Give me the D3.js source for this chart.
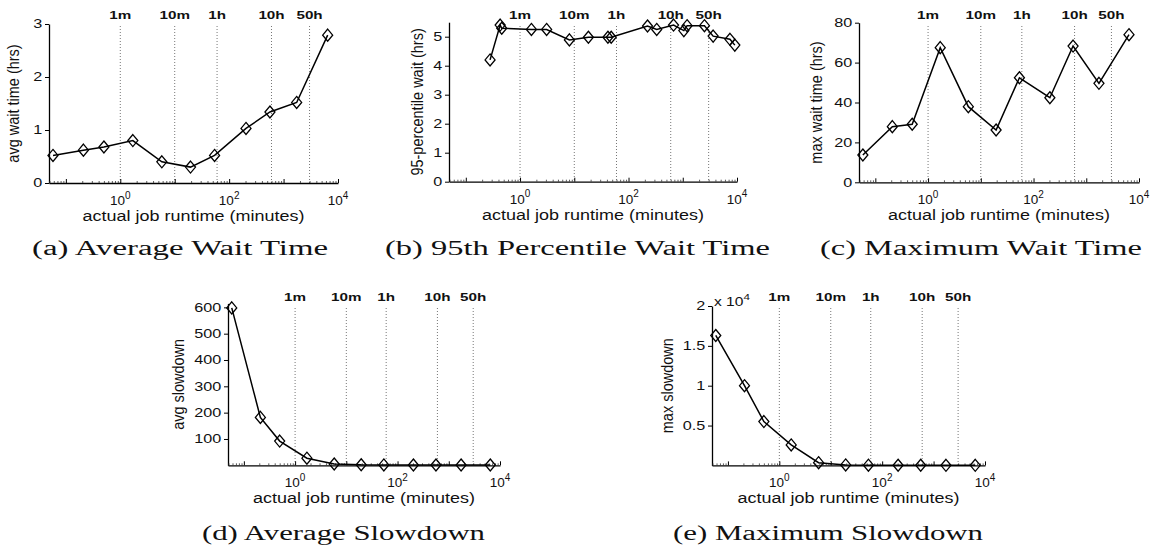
<!DOCTYPE html>
<html lang="en">
<head>
<meta charset="UTF-8">
<title>wait time and slowdown vs job runtime</title>
<style>
  body { margin: 0; background: #fff; }
  svg text { fill: #111; }
</style>
</head>
<body>
<svg id="chart" width="1157" height="554"></svg>

<script src="https://cdnjs.cloudflare.com/ajax/libs/d3/7.8.5/d3.min.js"></script>
<script>

// runtime bins in minutes (panels a, c, d, e share them)
var runtimeMin = [0.058, 0.21, 0.50, 1.7, 5.8, 19.5, 54, 204, 562, 1740, 6460];

var avgWait     = [0.52, 0.62, 0.68, 0.80, 0.40, 0.30, 0.52, 1.03, 1.34, 1.52, 2.79];
var maxWait     = [13.7, 27.9, 29.1, 67.5, 37.9, 26.2, 52.4, 42.4, 68.3, 49.6, 74.0];
var avgSlowdown = [598, 182, 92, 27, 5, 2, 1.5, 1, 1, 1, 1];
var maxSlowdown = [16300, 10000, 5500, 2570, 340, 60, 30, 20, 15, 10, 8];

// 95-percentile panel has its own, finer bins
var p95Runtime = [0.28, 0.43, 0.46, 1.62, 3.09, 8.13, 18.2, 41.7, 47.9, 224, 331, 676, 1047, 1202, 2512, 3631, 7413, 9120];
var p95Wait    = [4.20, 5.40, 5.29, 5.25, 5.25, 4.89, 4.98, 4.98, 4.98, 5.37, 5.25, 5.40, 5.21, 5.38, 5.38, 5.02, 4.91, 4.71];

// reference lines drawn over every panel
var markMin    = [1, 10, 60, 600, 3000];
var markLabels = ["1m", "10m", "1h", "10h", "50h"];

var svg = d3.select("#chart");

// layout of the five panels
var panels = [
  { xs: runtimeMin, ys: avgWait, x0: 49, x1: 338, yb: 183, yt: 24, ymax: 3,
    ticks: [0, 1, 2, 3], fmt: d3.format("d"), ylabel: "avg wait time (hrs)", yoff: 36,
    markY: 19, caption: "(a) Average Wait Time", capX: 32, capY: 255, capW: 296 },
  { xs: p95Runtime, ys: p95Wait, x0: 449, x1: 737, yb: 181.7, yt: 22.2, ymax: 5.5,
    ticks: [0, 1, 2, 3, 4, 5], fmt: d3.format("d"), ylabel: "95-percentile wait (hrs)", yoff: 32,
    markY: 19, caption: "(b) 95th Percentile Wait Time", capX: 385, capY: 255, capW: 385 },
  { xs: runtimeMin, ys: maxWait, x0: 859, x1: 1139, yb: 182.3, yt: 22.7, ymax: 80,
    ticks: [0, 20, 40, 60, 80], fmt: d3.format("d"), ylabel: "max wait time (hrs)", yoff: 43,
    markY: 19, caption: "(c) Maximum Wait Time", capX: 820, capY: 255, capW: 322 },
  { xs: runtimeMin, ys: avgSlowdown, x0: 228, x1: 500, yb: 465.3, yt: 303.4, ymax: 615,
    ticks: [100, 200, 300, 400, 500, 600], fmt: d3.format("d"), ylabel: "avg slowdown", yoff: 50,
    markY: 301, caption: "(d) Average Slowdown", capX: 202, capY: 540, capW: 283 },
  { xs: runtimeMin, ys: maxSlowdown, x0: 712, x1: 985, yb: 465.4, yt: 306, ymax: 20000,
    ticks: [5000, 10000, 15000, 20000], fmt: function(d){ return String(d / 1e4); },
    ylabel: "max slowdown", yoff: 45, exp4: true,
    markY: 301, caption: "(e) Maximum Slowdown", capX: 673, capY: 540, capW: 310 }
];

var diamond = "M0,-6L5,0L0,6L-5,0Z";

// matlab-ish minor ticks on the log axis
var minorTicks = [];
for (var e = -2; e < 4; e++) {
  for (var m = 2; m <= 9; m++) {
    var v = m * Math.pow(10, e);
    if (v > 0.049 && v < 1e4) minorTicks.push(v);
  }
}

panels.forEach(function(p) {
  var g = svg.append("g");

  var x = d3.scaleLog().domain([0.049, 1e4]).range([p.x0, p.x1]);
  var y = d3.scaleLinear().domain([0, p.ymax]).range([p.yb, p.yt]);

  // dotted reference lines + labels
  markMin.forEach(function(mv, i) {
    g.append("line")
      .attr("x1", x(mv)).attr("x2", x(mv))
      .attr("y1", p.markY + 7).attr("y2", p.yb)
      .attr("stroke", "#666").attr("stroke-width", 0.9)
      .attr("stroke-dasharray", "1,2");
    g.append("text")
      .attr("transform", "translate(" + x(mv) + "," + p.markY + ") scale(1.45,1)")
      .attr("text-anchor", "middle")
      .style("font-family", "Liberation Sans, Arial, sans-serif")
      .style("font-size", "10.5px").style("font-weight", "bold")
      .text(markLabels[i]);
  });

  // y axis
  var ya = g.append("g")
    .attr("transform", "translate(" + p.x0 + ",0)")
    .call(d3.axisLeft(y).tickValues(p.ticks).tickSize(4).tickSizeOuter(0).tickFormat(p.fmt));
  ya.select(".domain").attr("stroke", "#000").attr("stroke-width", 1.3);
  ya.selectAll(".tick line").attr("stroke", "#000").attr("stroke-width", 1);
  ya.selectAll(".tick text")
    .attr("x", -5).attr("transform", "scale(1.35,1)")
    .style("font-family", "Liberation Sans, Arial, sans-serif")
    .style("font-size", "12px").attr("fill", "#111");

  // x axis, major + minor ticks pointing in
  var xa = g.append("g")
    .attr("transform", "translate(0," + p.yb + ")")
    .call(d3.axisBottom(x).tickValues([0.1, 1, 10, 100, 1000, 10000]).tickSize(-4).tickSizeOuter(0).tickFormat(""));
  xa.select(".domain").attr("stroke", "#000").attr("stroke-width", 1.3);
  xa.selectAll(".tick line").attr("stroke", "#000");
  var xm = g.append("g")
    .attr("transform", "translate(0," + p.yb + ")")
    .call(d3.axisBottom(x).tickValues(minorTicks).tickSize(-2).tickFormat(""));
  xm.select(".domain").remove();
  xm.selectAll(".tick line").attr("stroke", "#333").attr("stroke-width", 0.8);

  [1, 100, 10000].forEach(function(v) {
    var t = g.append("text")
      .attr("x", x(v)).attr("y", p.yb + 22)
      .attr("text-anchor", "middle")
      .style("font-family", "Liberation Sans, Arial, sans-serif")
      .style("font-size", "13.5px");
    t.append("tspan").text("10");
    t.append("tspan").attr("dy", -6.5).style("font-size", "10px").text(Math.round(Math.log10(v)));
  });

  if (p.exp4) {
    var t4 = g.append("text")
      .attr("transform", "translate(" + (p.x0 + 2) + "," + p.yt + ") scale(1.3,1)")
      .style("font-family", "Liberation Sans, Arial, sans-serif")
      .style("font-size", "12px");
    t4.append("tspan").text("x 10");
    t4.append("tspan").attr("dy", -6).style("font-size", "9px").text("4");
  }

  // axis labels
  g.append("text")
    .attr("transform", "translate(" + ((p.x0 + p.x1) / 2) + "," + (p.yb + 38) + ") scale(1.24,1)")
    .attr("text-anchor", "middle")
    .style("font-family", "Liberation Sans, Arial, sans-serif")
    .style("font-size", "14.5px")
    .text("actual job runtime (minutes)");

  g.append("text")
    .attr("transform", "translate(" + (p.x0 - p.yoff) + "," + ((p.yb + p.yt) / 2) + ") rotate(-90) scale(1,1.15)")
    .attr("text-anchor", "middle")
    .attr("dy", "0.35em")
    .style("font-family", "Liberation Sans, Arial, sans-serif")
    .style("font-size", "14.5px")
    .text(p.ylabel);

  // series
  var pts = p.xs.map(function(d, i) { return [d, p.ys[i]]; });
  var line = d3.line().x(function(d) { return x(d[0]); }).y(function(d) { return y(d[1]); });
  g.append("path").datum(pts)
    .attr("d", line)
    .attr("fill", "none").attr("stroke", "#000").attr("stroke-width", 1.5);

  g.selectAll("path.mk").data(pts).enter().append("path")
    .attr("class", "mk")
    .attr("d", diamond)
    .attr("transform", function(d) { return "translate(" + x(d[0]) + "," + y(d[1]) + ")"; })
    .attr("fill", "none").attr("stroke", "#000").attr("stroke-width", 1.3);

  // caption under the panel
  g.append("text")
    .attr("x", p.capX).attr("y", p.capY)
    .attr("textLength", p.capW).attr("lengthAdjust", "spacingAndGlyphs")
    .style("font-family", "Liberation Serif, Times New Roman, serif")
    .style("font-size", "20px")
    .text(p.caption);
});

</script>
</body>
</html>
